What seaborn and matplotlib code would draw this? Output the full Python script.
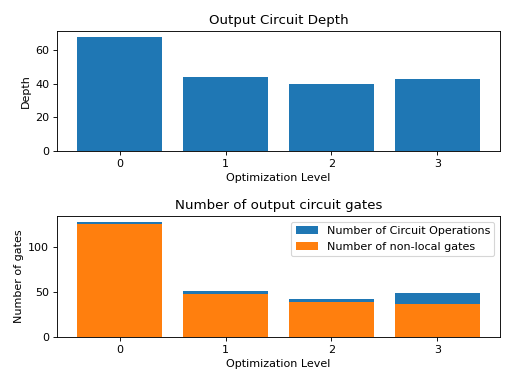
import matplotlib
matplotlib.use("Agg")
import matplotlib.pyplot as plt
import seaborn as sns
import pandas as pd

levels = ["0", "1", "2", "3"]
depth = [68, 44, 40, 43]
total_ops = [128, 51, 42, 49]
nonlocal_gates = [126, 48, 39, 37]

blue = "#1f77b4"
orange = "#ff7f0e"

fig = plt.figure(figsize=(6.4, 4.8), dpi=80)
ax1 = fig.add_axes([57/512, 1-151/384, 443/512, 120/384])
ax2 = fig.add_axes([57/512, 1-337/384, 443/512, 121/384])

df = pd.DataFrame({"level": levels, "depth": depth, "total": total_ops, "nonlocal": nonlocal_gates})

sns.barplot(data=df, x="level", y="depth", color=blue, saturation=1, width=0.8, ax=ax1)
ax1.set_title("Output Circuit Depth")
ax1.set_xlabel("Optimization Level")
ax1.set_ylabel("Depth")
ax1.set_xlim(-0.59, 3.59)

sns.barplot(data=df, x="level", y="total", color=blue, saturation=1, width=0.8, ax=ax2,
            label="Number of Circuit Operations")
sns.barplot(data=df, x="level", y="nonlocal", color=orange, saturation=1, width=0.8, ax=ax2,
            label="Number of non-local gates")
ax2.set_title("Number of output circuit gates")
ax2.set_xlabel("Optimization Level")
ax2.set_ylabel("Number of gates")
ax2.set_xlim(-0.59, 3.59)
ax2.legend(loc="upper right")

fig.savefig("out.png", dpi=80)
